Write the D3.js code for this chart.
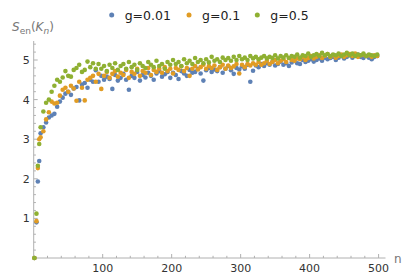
<!DOCTYPE html>
<html><head><meta charset="utf-8">
<script src="https://cdn.jsdelivr.net/npm/d3@7"></script>
<style>body{margin:0;background:#fff;}svg{display:block;font-family:"DejaVu Sans",sans-serif;}</style>
</head><body><svg id="c" width="415" height="276"></svg>
<script>
const seriesNames = ["g=0.01", "g=0.1", "g=0.5"];
const nEarly = [1, 4, 6, 8];
const nStep = 4, nStart = 10, nEnd = 500;
const xTicks = [100, 200, 300, 400, 500];
const yTicks = [1, 2, 3, 4, 5];

const blue = [0, 0.9, 1.93, 2.45,
 3.15, 3.3, 3.42, 3.55, 3.6, 3.64, 3.82, 3.95, 4.05, 4.15,
 4.2, 4.12, 4.28, 4.32, 3.98, 4.38, 4.42, 4.3, 4.5, 4.45,
 4.74, 4.45, 4.6, 4.5, 4.58, 4.52, 4.27, 4.62, 4.48, 4.55,
 4.65, 4.5, 4.25, 4.6, 4.55, 4.7, 4.48, 4.62, 4.56, 4.68,
 4.6, 4.5, 4.66, 4.72, 4.58, 4.64, 4.7, 4.55, 4.68, 4.62,
 4.52, 4.72, 4.66, 4.6, 4.75, 4.68, 4.7, 4.78, 4.66, 4.48,
 4.74, 4.8, 4.7, 4.76, 4.72, 4.82, 4.68, 4.78, 4.85, 4.74,
 4.65, 4.8, 4.76, 4.84, 4.78, 4.88, 4.45, 4.73, 4.86, 4.82,
 4.9, 4.85, 4.92, 4.88, 4.95, 4.86, 4.9, 4.96, 4.88, 4.92,
 4.85, 4.94, 4.98, 4.92, 4.9, 5.0, 4.95, 4.98, 5.02, 4.96,
 5.0, 5.04, 4.98, 5.06, 5.02, 5.05, 5.08, 5.0, 5.06, 5.1,
 5.04, 5.08, 5.12, 5.06, 5.1, 5.14, 5.08, 5.05, 5.1, 5.06,
 5.02, 5.08, 5.1];
const orange = [0, 0.93, 2.27, 3.0,
 3.05, 3.2, 3.5, 3.68, 3.95, 3.9, 3.92, 4.1, 4.25, 4.3,
 4.2, 4.35, 4.28, 3.97, 4.45, 4.3, 3.98, 4.5, 4.55, 4.6,
 4.45, 4.65, 4.27, 4.6, 4.7, 4.55, 4.65, 4.72, 4.58, 4.68,
 4.62, 4.75, 4.55, 4.7, 4.65, 4.78, 4.6, 4.72, 4.68, 4.8,
 4.62, 4.75, 4.7, 4.78, 4.68, 4.82, 4.72, 4.78, 4.66, 4.8,
 4.75, 4.84, 4.72, 4.8, 4.6, 4.78, 4.85, 4.76, 4.82, 4.88,
 4.78, 4.85, 4.8, 4.86, 4.75, 4.82, 4.88, 4.78, 4.86, 4.8,
 4.84, 4.9, 4.66, 4.88, 4.82, 4.9, 4.86, 4.92, 4.88, 4.95,
 4.88, 4.92, 4.98, 4.9, 4.95, 5.0, 4.92, 4.98, 5.02, 4.95,
 5.05, 5.0, 4.98, 5.04, 5.02, 5.08, 5.0, 5.05, 5.1, 5.04,
 5.08, 5.12, 5.05, 5.1, 5.15, 5.08, 5.12, 5.06, 5.1, 5.14,
 5.08, 5.12, 5.15, 5.1, 5.16, 5.08, 5.12, 5.14, 5.1, 5.12,
 5.08, 5.12, 5.1];
const green = [0, 1.12, 2.33, 2.88,
 3.3, 3.7, 3.92, 4.0, 4.2, 4.35, 4.5, 4.45, 4.56, 4.72,
 4.6, 4.58, 4.75, 4.8, 4.88, 4.7, 4.75, 4.96, 4.82, 4.92,
 4.78, 4.9, 4.78, 4.85, 4.72, 4.88, 4.8, 4.92, 4.75, 4.85,
 4.9, 4.78, 4.95, 4.82, 4.88, 4.75, 4.92, 4.85, 4.8, 4.95,
 4.88, 4.82, 4.98, 4.85, 4.9, 4.78, 4.95, 4.88, 5.0, 4.9,
 4.95, 4.85, 5.02, 4.92, 4.98, 4.9, 5.05, 4.95, 5.0, 4.92,
 5.02, 4.94, 5.08, 4.98, 5.02, 4.95, 5.06, 5.0, 5.05, 4.98,
 5.08, 5.0, 5.1, 5.02, 5.06, 5.0, 5.1, 5.04, 5.08, 5.02,
 5.06, 5.1, 5.04, 5.08, 5.05, 5.12, 5.04, 5.1, 5.06, 5.12,
 5.05, 5.1, 5.08, 5.14, 5.06, 5.12, 5.1, 5.16, 5.08, 5.12,
 5.15, 5.1, 5.18, 5.12, 5.15, 5.1, 5.14, 5.12, 5.16, 5.1,
 5.14, 5.18, 5.12, 5.16, 5.1, 5.14, 5.12, 5.16, 5.1, 5.14,
 5.12, 5.1, 5.14];

const nValues = nEarly.concat(d3.range(nStart, nEnd + 1, nStep));
const colors = ["#5E81B5", "#E19C24", "#8FB032"];
const allSeries = [blue, orange, green];

const svg = d3.select("#c");
const x = d3.scaleLinear().domain([0, 510]).range([33.7, 385.5]);
const y = d3.scaleLinear().domain([0, 5.48]).range([258, 41]);
const axisColor = "#b0b0b0", labelColor = "#333";

// x axis
const xa = svg.append("g").attr("transform", "translate(0,258)");
xa.append("line").attr("x1", x(0)).attr("x2", x(510)).attr("stroke", axisColor);
xa.selectAll(".mt").data(d3.range(20, 501, 20)).join("line")
  .attr("x1", d => x(d)).attr("x2", d => x(d)).attr("y1", 0)
  .attr("y2", d => d % 100 === 0 ? -4 : -2.2).attr("stroke", axisColor);
xa.selectAll("text").data(xTicks).join("text")
  .attr("x", d => x(d)).attr("y", 13.5).attr("text-anchor", "middle")
  .attr("font-size", 11).attr("fill", labelColor).text(d => d);

// y axis
const ya = svg.append("g").attr("transform", `translate(${x(0)},0)`);
ya.append("line").attr("y1", y(0)).attr("y2", y(5.48)).attr("stroke", axisColor);
ya.selectAll(".mt").data(d3.range(1, 28).map(i => i * 0.2)).join("line")
  .attr("y1", d => y(d)).attr("y2", d => y(d)).attr("x1", 0)
  .attr("x2", d => Math.abs(d - Math.round(d)) < 1e-6 ? 4 : 2.2).attr("stroke", axisColor);
ya.selectAll("text").data(yTicks).join("text")
  .attr("x", -4).attr("y", d => y(d) + 4).attr("text-anchor", "end")
  .attr("font-size", 11).attr("fill", labelColor).text(d => d);

// points
allSeries.forEach((vals, si) => {
  svg.append("g").selectAll("circle").data(vals).join("circle")
    .attr("cx", (d, i) => x(nValues[i])).attr("cy", d => y(d))
    .attr("r", 2.3).attr("fill", colors[si]);
});

// axis labels
const yl = svg.append("text").attr("x", 12).attr("y", 31).attr("fill", "#777")
  .attr("font-size", 12);
yl.append("tspan").attr("font-style", "italic").text("S");
yl.append("tspan").attr("font-size", 9).attr("dy", 3).text("en");
yl.append("tspan").attr("dy", -3).text("(");
yl.append("tspan").attr("font-style", "italic").text("K");
yl.append("tspan").attr("font-style", "italic").attr("font-size", 9).attr("dy", 3).text("n");
yl.append("tspan").attr("dy", -3).text(")");
svg.append("text").attr("x", 394).attr("y", 263).attr("fill", "#777")
  .attr("font-size", 12).text("n");

// legend
const legX = [111.7, 189, 257.3];
seriesNames.forEach((name, i) => {
  svg.append("circle").attr("cx", legX[i]).attr("cy", 15).attr("r", 2.5).attr("fill", colors[i]);
  svg.append("text").attr("x", legX[i] + 13).attr("y", 19.5).attr("font-size", 12.5)
    .attr("fill", "#222").text(name);
});
</script></body></html>
